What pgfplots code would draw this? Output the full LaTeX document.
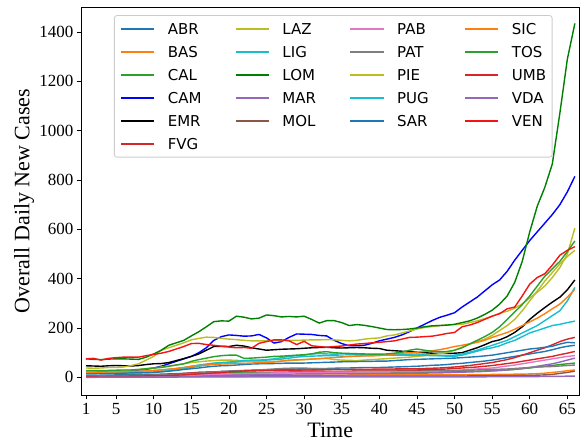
\documentclass[border=0pt]{standalone}
\usepackage{fontspec}
\setmainfont{Liberation Serif}
\newfontfamily\legfont{DejaVu Sans}
\usepackage{pgfplots}
\usepackage{pgfplotstable}
\pgfplotsset{compat=1.18}
\definecolor{tabblue}{HTML}{1F77B4}
\definecolor{taborange}{HTML}{FF7F0E}
\definecolor{tabgreen}{HTML}{2CA02C}
\definecolor{tabred}{HTML}{D62728}
\definecolor{tabpurple}{HTML}{9467BD}
\definecolor{tabbrown}{HTML}{8C564B}
\definecolor{tabpink}{HTML}{E377C2}
\definecolor{tabgray}{HTML}{7F7F7F}
\definecolor{tabolive}{HTML}{BCBD22}
\definecolor{tabcyan}{HTML}{17BECF}
\definecolor{mplgreen}{HTML}{008000}
\definecolor{mplblue}{HTML}{0000FF}
\definecolor{mplred}{HTML}{F41414}

\pgfplotstableread[header=false]{
ABR 8 8 9 9 10 10 11 11 12 12 13 14 15 16 18 20 21 22 24 25 27 28 29 30 30 31 32 33 34 35 35 36 36 37 38 38 39 40 40 40 41 42 43 44 45 47 49 50 52 55 57 60 63 66 70 75 80 85 90 95 100 105 112 120 126 130
BAS 2 2 2 2 3 3 3 3 3 4 4 4 5 5 5 6 6 6 7 7 7 7 8 8 8 8 8 9 9 9 9 9 9 9 9 10 10 10 10 10 10 10 10 10 10 10 10 10 10 10 10 11 11 11 12 12 12 13 13 14 15 17 20 23 27 30
CAL 6 6 6 7 7 7 8 8 8 9 9 10 11 12 13 14 15 16 17 18 18 19 19 20 20 21 21 22 22 22 22 22 22 22 22 22 22 22 22 22 22 21 21 21 21 21 21 22 22 22 23 24 25 26 27 28 30 32 35 38 42 45 48 52 55 58
CAM 22 22 23 24 25 26 27 30 33 38 45 55 65 75 85 100 120 150 165 172 170 167 168 174 160 139 145 162 176 175 174 170 168 150 137 128 128 130 138 148 155 162 172 185 200 215 230 243 252 262 285 305 325 350 375 395 430 475 515 555 590 625 660 700 752 815
EMR 47 46 45 47 48 47 46 48 52 55 56 60 68 76 85 95 110 125 126 125 130 127 120 115 110 112 114 115 116 118 120 121 122 120 119 120 121 120 118 117 110 108 106 105 102 100 98 97 97 98 100 110 120 132 145 152 165 182 205 235 260 283 305 325 355 395
FVG 4 4 5 5 5 6 6 7 8 9 10 12 14 16 18 20 21 22 23 24 25 26 26 27 28 28 28 29 29 30 30 31 31 32 32 32 33 33 33 34 34 34 35 35 35 36 37 38 40 42 45 48 52 56 60 66 72 80 90 100 110 120 132 145 155 162
LAZ 38 37 38 40 40 42 48 55 70 85 110 120 130 140 152 158 163 162 158 155 153 150 148 148 148 149 149 150 150 151 152 152 153 152 150 148 150 155 158 160 168 172 180 188 196 202 206 210 212 214 215 222 229 238 248 260 268 280 298 322 345 370 405 445 500 605
LIG 15 15 16 16 17 18 18 19 20 22 25 28 32 36 40 45 50 55 58 60 62 65 66 68 70 72 74 78 82 85 86 87 88 88 86 85 86 88 90 90 91 92 93 94 95 92 90 88 86 85 90 98 106 114 120 128 140 150 165 180 190 200 210 215 222 228
LOM 75 73 72 74 75 75 74 73 82 95 110 130 140 150 168 185 205 226 229 228 248 244 237 240 253 250 245 247 245 248 235 220 230 230 222 210 214 211 206 200 194 193 194 196 200 205 209 210 212 215 222 229 240 255 272 297 330 385 470 590 694 770 865 1070 1290 1435
MAR 2 2 2 2 3 3 3 3 4 4 4 5 5 6 7 8 8 9 10 10 11 11 12 12 12 13 13 13 14 14 14 14 15 15 15 15 15 15 16 16 16 16 16 17 17 17 18 18 19 20 21 22 23 24 26 28 30 33 36 40 45 50 55 62 70 78
MOL 1 1 1 1 1 1 2 2 2 2 2 2 3 3 3 3 4 4 4 4 4 4 5 5 5 5 5 5 5 5 5 5 5 5 5 5 5 5 5 5 5 5 5 5 5 5 5 5 5 5 5 6 6 6 6 7 7 7 8 8 9 10 12 16 20 25
PAB 2 2 2 3 3 3 3 4 4 5 5 6 7 8 9 10 11 12 13 14 15 16 16 17 17 18 18 19 19 20 20 20 21 21 21 21 22 22 22 22 22 23 23 23 24 24 25 26 27 28 30 32 34 36 38 42 46 50 55 60 65 70 75 80 85 88
PAT 5 5 6 6 6 7 7 8 8 9 10 11 12 13 15 17 19 21 23 25 26 27 28 30 32 34 36 37 38 38 36 35 34 33 32 31 30 30 30 30 30 30 29 29 29 29 28 28 28 28 28 29 30 31 32 33 34 36 38 40 42 43 44 46 48 50
PIE 25 25 26 27 28 28 30 32 35 38 42 46 50 55 60 63 66 68 70 70 69 67 65 64 63 64 66 68 70 72 74 76 77 72 70 69 68 70 72 74 76 78 80 82 85 88 92 96 100 110 122 135 145 155 170 190 210 235 270 310 350 390 425 460 490 515
PUG 20 21 21 22 22 23 24 25 26 28 30 33 36 40 45 50 54 58 60 62 65 68 70 70 72 75 80 85 88 90 95 96 95 94 95 94 93 92 92 92 91 90 90 90 90 89 88 88 88 90 95 102 110 120 130 140 150 165 180 195 210 230 250 270 310 365
SAR 15 15 16 16 17 17 18 18 19 20 22 25 28 32 35 38 42 45 47 48 50 52 54 55 55 56 57 58 58 58 59 60 61 62 63 64 64 65 65 66 66 68 70 72 73 74 75 76 77 78 80 82 84 87 90 95 100 105 110 115 118 122 126 135 142 140
SIC 20 20 21 22 22 23 24 25 26 28 30 33 36 40 45 48 50 52 54 55 56 57 58 60 60 62 66 70 71 72 74 76 78 80 82 85 86 87 87 88 92 95 98 100 102 105 108 112 118 125 130 136 142 150 162 172 182 195 210 225 240 258 278 297 325 357
TOS 28 28 27 28 29 30 30 32 35 38 40 45 50 55 65 72 78 84 88 90 90 77 78 80 82 85 86 88 90 92 95 102 104 100 98 97 96 95 94 94 95 98 102 110 115 110 106 104 105 110 120 135 150 165 182 205 235 265 295 330 370 410 440 470 510 553
UMB 3 3 3 4 4 4 5 5 6 6 7 8 9 10 12 14 16 18 20 22 24 26 27 28 28 29 29 30 30 30 30 30 31 31 31 31 30 30 30 30 30 30 30 30 30 31 32 33 34 36 38 40 42 45 48 52 56 60 65 70 75 80 85 92 98 105
VDA 0 0 1 1 1 1 1 1 1 1 1 1 1 2 2 2 2 2 2 2 2 2 2 2 2 2 2 2 2 2 2 2 2 2 2 2 2 2 2 2 2 2 2 2 2 2 2 2 2 2 2 2 2 2 3 3 3 3 3 3 3 4 4 4 5 5
VEN 75 77 70 77 80 82 82 82 88 93 98 105 115 125 137 138 133 130 126 123 120 121 118 138 145 152 152 148 133 146 128 125 122 125 127 131 135 137 140 142 145 148 155 162 163 165 167 172 178 182 205 212 222 235 248 258 278 285 330 378 405 420 455 495 515 530
}\rawdata
\pgfplotstabletranspose[colnames from=0]\data\rawdata

\begin{document}
\begin{tikzpicture}
\begin{axis}[
  scale only axis, width=497.5pt, height=388pt,
  xmin=0.4, xmax=66.55, ymin=-71.5, ymax=1501.5,
  xtick={1,5,10,15,20,25,30,35,40,45,50,55,60,65},
  ytick={0,200,400,600,800,1000,1200,1400},
  tick align=outside, xtick pos=left, ytick pos=left,
  major tick length=4.5pt,
  tick style={black, line width=0.8pt},
  axis line style={line width=0.8pt},
  ticklabel style={font=\fontsize{17}{17}\selectfont},
  /pgf/number format/assume math mode=true,
  /pgf/number format/1000 sep={},
  xlabel={Time}, ylabel={Overall Daily New Cases},
  label style={font=\fontsize{22}{22}\selectfont},
  xlabel style={at={([yshift=-35pt]axis description cs:0.5,0)}, anchor=center},
  ylabel style={at={([xshift=-57.5pt]axis description cs:0,0.5)}, anchor=center},
  every axis plot/.append style={line width=1.4pt, line join=round},
  legend columns=4,
  legend cell align=left,
  legend image code/.code={\draw[#1, line width=1.4pt] (0pt,0pt) -- (33.3pt,0pt);},
  legend style={
    at={(axis description cs:0.0653,0.979)}, anchor=north west,
    font=\legfont\fontsize{15}{18}\selectfont,
    draw=black!20, line width=0.8pt, rounded corners=2.5pt, fill=white,
    inner xsep=6pt, inner ysep=7.8pt,
    row sep=12pt,
    nodes={inner sep=0pt, text height=11pt, text depth=0pt},
    /tikz/every odd column/.append style={column sep=12.7pt},
    /tikz/every even column/.append style={column sep=27.3pt},
  },
]
\addplot[forget plot, tabblue]   table[x expr=\coordindex+1, y=ABR] {\data};
\addplot[forget plot, taborange] table[x expr=\coordindex+1, y=BAS] {\data};
\addplot[forget plot, tabgreen]  table[x expr=\coordindex+1, y=CAL] {\data};
\addplot[forget plot, mplblue]   table[x expr=\coordindex+1, y=CAM] {\data};
\addplot[forget plot, black]     table[x expr=\coordindex+1, y=EMR] {\data};
\addplot[forget plot, tabred]    table[x expr=\coordindex+1, y=FVG] {\data};
\addplot[forget plot, tabolive]  table[x expr=\coordindex+1, y=LAZ] {\data};
\addplot[forget plot, tabcyan]   table[x expr=\coordindex+1, y=LIG] {\data};
\addplot[forget plot, mplgreen]  table[x expr=\coordindex+1, y=LOM] {\data};
\addplot[forget plot, tabpurple] table[x expr=\coordindex+1, y=MAR] {\data};
\addplot[forget plot, tabbrown]  table[x expr=\coordindex+1, y=MOL] {\data};
\addplot[forget plot, tabpink]   table[x expr=\coordindex+1, y=PAB] {\data};
\addplot[forget plot, tabgray]   table[x expr=\coordindex+1, y=PAT] {\data};
\addplot[forget plot, tabolive]  table[x expr=\coordindex+1, y=PIE] {\data};
\addplot[forget plot, tabcyan]   table[x expr=\coordindex+1, y=PUG] {\data};
\addplot[forget plot, tabblue]   table[x expr=\coordindex+1, y=SAR] {\data};
\addplot[forget plot, taborange] table[x expr=\coordindex+1, y=SIC] {\data};
\addplot[forget plot, tabgreen]  table[x expr=\coordindex+1, y=TOS] {\data};
\addplot[forget plot, tabred]    table[x expr=\coordindex+1, y=UMB] {\data};
\addplot[forget plot, tabpurple] table[x expr=\coordindex+1, y=VDA] {\data};
\addplot[forget plot, mplred]    table[x expr=\coordindex+1, y=VEN] {\data};
% legend, row by row
\addlegendimage{tabblue}\addlegendentry{\makebox[40pt][l]{ABR}}
\addlegendimage{tabolive}\addlegendentry{\makebox[40pt][l]{LAZ}}
\addlegendimage{tabpink}\addlegendentry{\makebox[40pt][l]{PAB}}
\addlegendimage{taborange}\addlegendentry{SIC}
\addlegendimage{taborange}\addlegendentry{\makebox[40pt][l]{BAS}}
\addlegendimage{tabcyan}\addlegendentry{\makebox[40pt][l]{LIG}}
\addlegendimage{tabgray}\addlegendentry{\makebox[40pt][l]{PAT}}
\addlegendimage{tabgreen}\addlegendentry{TOS}
\addlegendimage{tabgreen}\addlegendentry{\makebox[40pt][l]{CAL}}
\addlegendimage{mplgreen}\addlegendentry{\makebox[40pt][l]{LOM}}
\addlegendimage{tabolive}\addlegendentry{\makebox[40pt][l]{PIE}}
\addlegendimage{tabred}\addlegendentry{UMB}
\addlegendimage{mplblue}\addlegendentry{\makebox[40pt][l]{CAM}}
\addlegendimage{tabpurple}\addlegendentry{\makebox[40pt][l]{MAR}}
\addlegendimage{tabcyan}\addlegendentry{\makebox[40pt][l]{PUG}}
\addlegendimage{tabpurple}\addlegendentry{VDA}
\addlegendimage{black}\addlegendentry{\makebox[40pt][l]{EMR}}
\addlegendimage{tabbrown}\addlegendentry{\makebox[40pt][l]{MOL}}
\addlegendimage{tabblue}\addlegendentry{\makebox[40pt][l]{SAR}}
\addlegendimage{mplred}\addlegendentry{VEN}
\addlegendimage{tabred}\addlegendentry{\makebox[40pt][l]{FVG}}
\end{axis}
\pgfresetboundingbox
\path (current axis.south west) ++(-81.5pt,-48pt) rectangle ++(585pt,443pt);
\end{tikzpicture}
\end{document}
